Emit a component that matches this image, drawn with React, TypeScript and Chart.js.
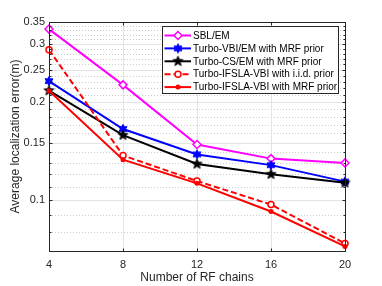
import React, { useEffect, useRef } from 'react';
import { Chart, registerables } from 'chart.js';

Chart.register(...registerables);

const rfChains = [4, 8, 12, 16, 20];
const sblEm = [0.333, 0.225, 0.148, 0.134, 0.13];
const turboVbiEm = [0.231, 0.165, 0.138, 0.128, 0.114];
const turboCsEm = [0.216, 0.158, 0.129, 0.12, 0.113];
const ifslaIid = [0.288, 0.137, 0.1145, 0.097, 0.0738];
const ifslaMrf = [0.216, 0.133, 0.1126, 0.0924, 0.0723];
const seriesNames = [
  'SBL/EM',
  'Turbo-VBI/EM with MRF prior',
  'Turbo-CS/EM with MRF prior',
  'Turbo-IFSLA-VBI with i.i.d. prior',
  'Turbo-IFSLA-VBI with MRF prior',
];
const xTickValues = [4, 8, 12, 16, 20];
const yTickValues = [0.1, 0.15, 0.2, 0.25, 0.3, 0.35];
const yMinorValues = [
  0.08, 0.09, 0.11, 0.12, 0.13, 0.14, 0.16, 0.17, 0.18, 0.19, 0.21, 0.22, 0.23, 0.24,
  0.26, 0.27, 0.28, 0.29, 0.31, 0.32, 0.33, 0.34,
];
const xTitle = 'Number of RF chains';
const yTitle = 'Average localization error(m)';

const FONT = '"Liberation Sans", Arial, Helvetica, sans-serif';
const AXIS_COLOR = '#262626';

function starCanvas(n: number, outer: number, inner: number, color: string) {
  const size = Math.ceil(outer * 2 + 4);
  const c = document.createElement('canvas');
  c.width = size;
  c.height = size;
  const g = c.getContext('2d')!;
  g.translate(size / 2, size / 2);
  g.beginPath();
  for (let i = 0; i < 2 * n; i++) {
    const r = i % 2 === 0 ? outer : inner;
    const a = -Math.PI / 2 + (i * Math.PI) / n;
    const px = r * Math.cos(a);
    const py = r * Math.sin(a);
    if (i === 0) g.moveTo(px, py);
    else g.lineTo(px, py);
  }
  g.closePath();
  g.fillStyle = color;
  g.fill();
  g.strokeStyle = color;
  g.lineWidth = 1;
  g.stroke();
  return c;
}

function drawMarker(ctx: CanvasRenderingContext2D, kind: string, x: number, y: number, color: string, img?: HTMLCanvasElement) {
  ctx.save();
  ctx.setLineDash([]);
  if (kind === 'diamond') {
    ctx.beginPath();
    ctx.moveTo(x, y - 4);
    ctx.lineTo(x + 4, y);
    ctx.lineTo(x, y + 4);
    ctx.lineTo(x - 4, y);
    ctx.closePath();
    ctx.fillStyle = '#fff';
    ctx.fill();
    ctx.strokeStyle = color;
    ctx.lineWidth = 1.5;
    ctx.stroke();
  } else if (kind === 'circle') {
    ctx.beginPath();
    ctx.arc(x, y, 3, 0, Math.PI * 2);
    ctx.fillStyle = '#fff';
    ctx.fill();
    ctx.strokeStyle = color;
    ctx.lineWidth = 1.5;
    ctx.stroke();
  } else if (kind === 'dot') {
    ctx.beginPath();
    ctx.arc(x, y, 2.5, 0, Math.PI * 2);
    ctx.fillStyle = color;
    ctx.fill();
  } else if (img) {
    ctx.drawImage(img, x - img.width / 2, y - img.height / 2);
  }
  ctx.restore();
}

export default function App() {
  const ref = useRef<HTMLCanvasElement | null>(null);

  useEffect(() => {
    document.body.style.margin = '0';
    const canvas = ref.current;
    if (!canvas) return;

    const hexBlue = starCanvas(6, 4.6, 2.6, '#0000ff');
    const pentBlack = starCanvas(5, 5.2, 2.2, '#000000');

    const styles = [
      { color: '#ff00ff', kind: 'diamond', dash: [] as number[], img: undefined as HTMLCanvasElement | undefined },
      { color: '#0000ff', kind: 'img', dash: [], img: hexBlue },
      { color: '#000000', kind: 'img', dash: [], img: pentBlack },
      { color: '#ff0000', kind: 'circle', dash: [6, 3], img: undefined },
      { color: '#ff0000', kind: 'dot', dash: [], img: undefined },
    ];
    const values = [sblEm, turboVbiEm, turboCsEm, ifslaIid, ifslaMrf];

    const datasets = values.map((arr, i) => {
      const s = styles[i];
      const base: any = {
        label: seriesNames[i],
        data: rfChains.map((x, j) => ({ x, y: arr[j] })),
        borderColor: s.color,
        borderWidth: 2,
        borderDash: s.dash,
        tension: 0,
        clip: false,
        order: 5 - i,
        pointBorderColor: s.color,
        pointHoverRadius: 4,
      };
      if (s.kind === 'diamond') {
        base.pointStyle = 'rectRot';
        base.pointRadius = 4;
        base.pointBackgroundColor = '#fff';
        base.pointBorderWidth = 1.5;
      } else if (s.kind === 'circle') {
        base.pointStyle = 'circle';
        base.pointRadius = 3;
        base.pointBackgroundColor = '#fff';
        base.pointBorderWidth = 1.5;
      } else if (s.kind === 'dot') {
        base.pointStyle = 'circle';
        base.pointRadius = 2.5;
        base.pointBackgroundColor = s.color;
        base.pointBorderWidth = 0;
      } else {
        base.pointStyle = s.img;
        base.pointRadius = 5;
      }
      return base;
    });

    const matlabPlugin = {
      id: 'matlabAxes',
      beforeDatasetsDraw(chart: any) {
        const { ctx, chartArea: a, scales } = chart;
        const y = scales.y;
        const x = scales.x;
        ctx.save();
        ctx.lineWidth = 1;
        ctx.strokeStyle = '#cdcdcd';
        ctx.setLineDash([1, 2]);
        for (const v of yMinorValues) {
          const py = Math.round(y.getPixelForValue(v)) + 0.5;
          ctx.beginPath();
          ctx.moveTo(a.left, py);
          ctx.lineTo(a.right, py);
          ctx.stroke();
        }
        ctx.setLineDash([]);
        ctx.strokeStyle = '#e3e3e3';
        for (const v of yTickValues) {
          const py = Math.round(y.getPixelForValue(v)) + 0.5;
          ctx.beginPath();
          ctx.moveTo(a.left, py);
          ctx.lineTo(a.right, py);
          ctx.stroke();
        }
        for (const v of xTickValues) {
          const px = Math.round(x.getPixelForValue(v)) + 0.5;
          ctx.beginPath();
          ctx.moveTo(px, a.top);
          ctx.lineTo(px, a.bottom);
          ctx.stroke();
        }
        ctx.restore();
      },
      afterDatasetsDraw(chart: any) {
        const { ctx, chartArea: a, scales } = chart;
        const y = scales.y;
        const x = scales.x;
        ctx.save();
        ctx.setLineDash([]);
        ctx.strokeStyle = AXIS_COLOR;
        ctx.lineWidth = 1;
        const L = Math.round(a.left) + 0.5;
        const R = Math.round(a.right) + 0.5;
        const T = Math.round(a.top) + 0.5;
        const B = Math.round(a.bottom) + 0.5;
        ctx.strokeRect(L, T, R - L, B - T);
        ctx.beginPath();
        for (const v of yTickValues) {
          const py = Math.round(y.getPixelForValue(v)) + 0.5;
          ctx.moveTo(L, py); ctx.lineTo(L + 3, py);
          ctx.moveTo(R, py); ctx.lineTo(R - 3, py);
        }
        for (const v of yMinorValues) {
          const py = Math.round(y.getPixelForValue(v)) + 0.5;
          ctx.moveTo(L, py); ctx.lineTo(L + 2, py);
          ctx.moveTo(R, py); ctx.lineTo(R - 2, py);
        }
        for (const v of xTickValues) {
          const px = Math.round(x.getPixelForValue(v)) + 0.5;
          ctx.moveTo(px, B); ctx.lineTo(px, B - 3);
          ctx.moveTo(px, T); ctx.lineTo(px, T + 3);
        }
        ctx.stroke();
        ctx.restore();
      },
      afterDraw(chart: any) {
        const { ctx, chartArea: a } = chart;
        ctx.save();
        // axis titles
        ctx.fillStyle = AXIS_COLOR;
        ctx.font = `12px ${FONT}`;
        ctx.textAlign = 'center';
        ctx.textBaseline = 'middle';
        ctx.fillText(xTitle, (a.left + a.right) / 2, 278);
        ctx.save();
        ctx.translate(15.5, (a.top + a.bottom) / 2);
        ctx.rotate(-Math.PI / 2);
        ctx.fillText(yTitle, 0, 0);
        ctx.restore();

        // legend
        const bx = 162.5;
        const by = 26.5;
        const bw = 176;
        const bh = 67;
        ctx.fillStyle = '#fff';
        ctx.fillRect(bx, by, bw, bh);
        ctx.strokeStyle = '#262626';
        ctx.lineWidth = 1;
        ctx.setLineDash([]);
        ctx.strokeRect(bx, by, bw, bh);
        ctx.font = `10px ${FONT}`;
        ctx.textAlign = 'left';
        ctx.textBaseline = 'middle';
        for (let i = 0; i < seriesNames.length; i++) {
          const s = styles[i];
          const ly = 35.5 + i * 12.9;
          ctx.save();
          ctx.strokeStyle = s.color;
          ctx.lineWidth = 2;
          ctx.setLineDash(s.dash);
          ctx.beginPath();
          ctx.moveTo(164.5, ly);
          ctx.lineTo(191, ly);
          ctx.stroke();
          ctx.restore();
          drawMarker(ctx, s.kind, 178, ly, s.color, s.img);
          ctx.fillStyle = '#000';
          ctx.fillText(seriesNames[i], 193, ly + 0.5);
        }
        ctx.restore();
      },
    };

    const tickFont = { family: FONT, size: 11 };

    const chart = new Chart(canvas, {
      type: 'line',
      data: { datasets },
      plugins: [matlabPlugin],
      options: {
        animation: false,
        responsive: false,
        maintainAspectRatio: false,
        layout: { padding: { top: 22, right: 37, left: 0, bottom: 0 } },
        plugins: { legend: { display: false }, tooltip: { enabled: false } },
        scales: {
          x: {
            type: 'linear',
            min: 4,
            max: 20,
            afterBuildTicks: (s: any) => {
              s.ticks = xTickValues.map((v) => ({ value: v }));
            },
            afterFit: (s: any) => {
              s.height = 35;
            },
            ticks: { font: tickFont, color: AXIS_COLOR, padding: 7, autoSkip: false, maxRotation: 0 },
            grid: { display: false, drawTicks: false },
            border: { display: false },
          },
          y: {
            type: 'logarithmic',
            min: 0.07,
            max: 0.35,
            afterBuildTicks: (s: any) => {
              s.ticks = yTickValues.map((v) => ({ value: v }));
            },
            afterFit: (s: any) => {
              s.width = 49;
            },
            ticks: {
              font: tickFont,
              color: AXIS_COLOR,
              padding: 4,
              autoSkip: false,
              callback: (v: any) => String(v),
            },
            grid: { display: false, drawTicks: false },
            border: { display: false },
          },
        },
      } as any,
    });
    return () => chart.destroy();
  }, []);

  return (
    <div style={{ width: 382, height: 286 }}>
      <canvas ref={ref} width={382} height={286} style={{ display: 'block' }} />
    </div>
  );
}
